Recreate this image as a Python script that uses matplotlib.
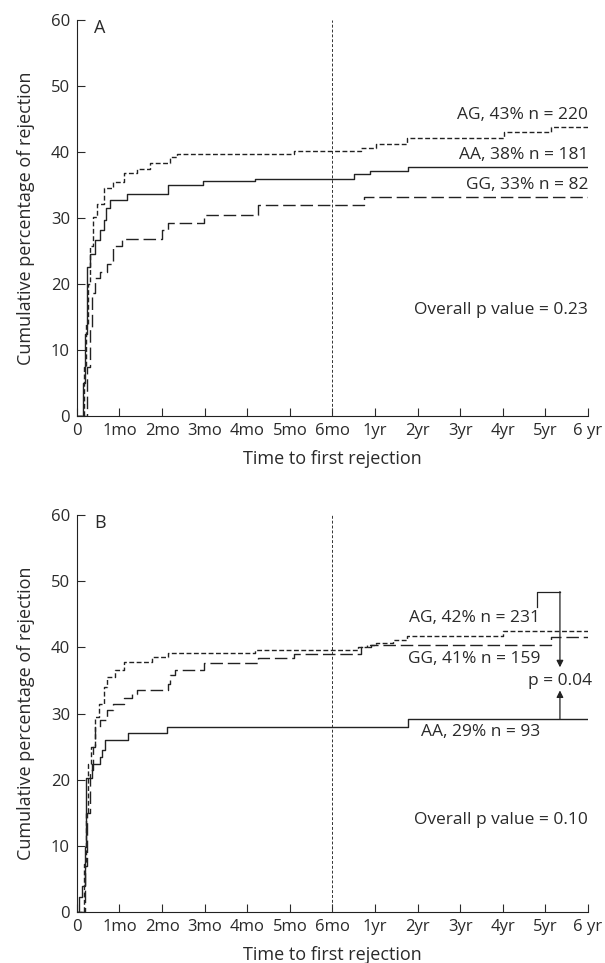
import matplotlib.pyplot as plt
import numpy as np

plt.rcParams['font.family'] = ['Open Sans', 'DejaVu Sans']
plt.rcParams['text.color'] = '#2a2a2a'
plt.rcParams['xtick.color'] = '#2a2a2a'
plt.rcParams['ytick.color'] = '#2a2a2a'
plt.rcParams['axes.labelcolor'] = '#2a2a2a'

# x positions: 0..6 are months, 7..12 are years 1..6
tick_pos = list(range(13))
tick_labels = ['0', '1mo', '2mo', '3mo', '4mo', '5mo', '6mo',
               '1yr', '2yr', '3yr', '4yr', '5yr', '6 yr']

# Panel A step curves (time position, cumulative %)
a_ag_t = [0, 0.07, 0.16, 0.22, 0.27, 0.31, 0.39, 0.47, 0.63, 0.86, 1.1, 1.41, 1.72, 2.19, 2.35,
          5.09, 6.68, 7.03, 7.74, 10.02, 11.14, 12.0]
a_ag_y = [0, 0, 7.5, 14, 20, 25.7, 30.2, 32.2, 34.5, 35.5, 36.8, 37.4, 38.3, 39.3, 39.7,
          40.2, 40.65, 41.2, 42.2, 43.0, 43.8, 43.8]
a_aa_t = [0, 0.07, 0.15, 0.2, 0.25, 0.31, 0.43, 0.55, 0.63, 0.69, 0.77, 1.17, 2.15, 2.97,
          4.19, 6.5, 6.88, 7.78, 12.0]
a_aa_y = [0, 0, 5, 12.5, 22.6, 24.6, 26.7, 28.2, 29.7, 31.5, 32.7, 33.7, 35.0, 35.6,
          35.9, 36.7, 37.1, 37.8, 37.8]
a_gg_t = [0, 0.1, 0.23, 0.3, 0.35, 0.43, 0.55, 0.70, 0.86, 1.06, 2.0, 2.14, 2.99, 4.26,
          6.74, 12.0]
a_gg_y = [0, 0, 7.5, 13.5, 18.6, 20.9, 21.9, 23.1, 25.7, 26.9, 28.2, 29.3, 30.5, 32.0,
          33.2, 33.2]

# Panel B step curves
b_ag_t = [0, 0.08, 0.16, 0.22, 0.26, 0.33, 0.43, 0.51, 0.63, 0.70, 0.9, 1.1, 1.76, 2.15,
          4.19, 6.6, 6.8, 7.03, 7.42, 7.74, 10.0, 12.0]
b_ag_y = [0, 0, 7.3, 14.9, 22.4, 25, 29.5, 31.5, 34, 35.5, 36.6, 37.8, 38.6, 39.2,
          39.6, 40.1, 40.4, 40.7, 41.2, 41.8, 42.5, 42.5]
b_gg_t = [0, 0.1, 0.18, 0.23, 0.31, 0.38, 0.43, 0.55, 0.70, 0.86, 1.1, 1.29, 1.41, 2.15,
          2.19, 2.31, 2.99, 4.26, 5.09, 6.68, 6.9, 11.14, 12.0]
b_gg_y = [0, 0, 7, 14.9, 21.4, 25, 28, 29, 30.5, 31.5, 32.3, 33, 33.5, 34.5,
          35.8, 36.6, 37.7, 38.4, 39.0, 40.0, 40.3, 41.6, 41.6]
b_aa_t = [0, 0.04, 0.12, 0.2, 0.22, 0.35, 0.55, 0.59, 0.67, 1.21, 2.11, 7.78, 12.0]
b_aa_y = [0, 2.3, 4, 9.8, 20.2, 22.4, 23.4, 24.5, 26.0, 27.0, 28.0, 29.2, 29.2]

fig = plt.figure(figsize=(6.05, 9.63), dpi=100)
ax_a = fig.add_axes([0.127, 0.568, 0.845, 0.411])
ax_b = fig.add_axes([0.127, 0.053, 0.845, 0.412])

short_dash = (0, (3.5, 1.8))
long_dash = (0, (9, 3.5))
ink = '#222222'


def style_axes(ax, letter):
    ax.set_xlim(0, 12)
    ax.set_ylim(0, 60)
    ax.spines['top'].set_visible(False)
    ax.spines['right'].set_visible(False)
    for s in ax.spines.values():
        s.set_linewidth(0.8)
        s.set_color(ink)
    ax.set_xticks(tick_pos)
    ax.set_xticklabels(tick_labels)
    ax.set_yticks(range(0, 61, 10))
    ax.tick_params(direction='in', length=6, width=0.8, labelsize=12, pad=5)
    ax.set_xlabel('Time to first rejection', fontsize=13, labelpad=8)
    ax.set_ylabel('Cumulative percentage of rejection', fontsize=13, labelpad=11)
    ax.axvline(6, color='#333333', lw=0.7, ls=(0, (3, 2)))
    ax.text(0.4, 58.8, letter, fontsize=13, va='center', ha='left')


style_axes(ax_a, 'A')
ax_a.step(a_ag_t, a_ag_y, where='post', color=ink, lw=1.0, ls=short_dash)
ax_a.step(a_aa_t, a_aa_y, where='post', color=ink, lw=1.0)
ax_a.step(a_gg_t, a_gg_y, where='post', color=ink, lw=1.0, ls=long_dash)
ax_a.text(12, 45.6, 'AG, 43% n = 220', ha='right', va='center', fontsize=12.5)
ax_a.text(12, 39.5, 'AA, 38% n = 181', ha='right', va='center', fontsize=12.5)
ax_a.text(12, 35.0, 'GG, 33% n = 82', ha='right', va='center', fontsize=12.5)
ax_a.text(12, 16.0, 'Overall p value = 0.23', ha='right', va='center', fontsize=12.5)

style_axes(ax_b, 'B')
ax_b.step(b_ag_t, b_ag_y, where='post', color=ink, lw=1.0, ls=short_dash)
ax_b.step(b_gg_t, b_gg_y, where='post', color=ink, lw=1.0, ls=long_dash)
ax_b.step(b_aa_t, b_aa_y, where='post', color=ink, lw=1.0)
ax_b.text(10.87, 44.4, 'AG, 42% n = 231', ha='right', va='center', fontsize=12.5)
ax_b.text(10.87, 38.3, 'GG, 41% n = 159', ha='right', va='center', fontsize=12.5)
ax_b.text(12.1, 35.0, 'p = 0.04', ha='right', va='center', fontsize=12.5, clip_on=False)
ax_b.text(10.87, 27.2, 'AA, 29% n = 93', ha='right', va='center', fontsize=12.5)
ax_b.text(12, 13.9, 'Overall p value = 0.10', ha='right', va='center', fontsize=12.5)

# bracket with arrows for the AA vs GG comparison
ax_b.plot([10.79, 10.79, 11.34], [46.1, 48.4, 48.4], color=ink, lw=0.9)
ax_b.annotate('', xy=(11.34, 37.0), xytext=(11.34, 48.45),
              arrowprops=dict(arrowstyle='-|>', color=ink, lw=0.9,
                              mutation_scale=10, shrinkA=0, shrinkB=0))
ax_b.annotate('', xy=(11.34, 33.5), xytext=(11.34, 29.2),
              arrowprops=dict(arrowstyle='-|>', color=ink, lw=0.9,
                              mutation_scale=10, shrinkA=0, shrinkB=0))

fig.savefig('out.png', dpi=100)
